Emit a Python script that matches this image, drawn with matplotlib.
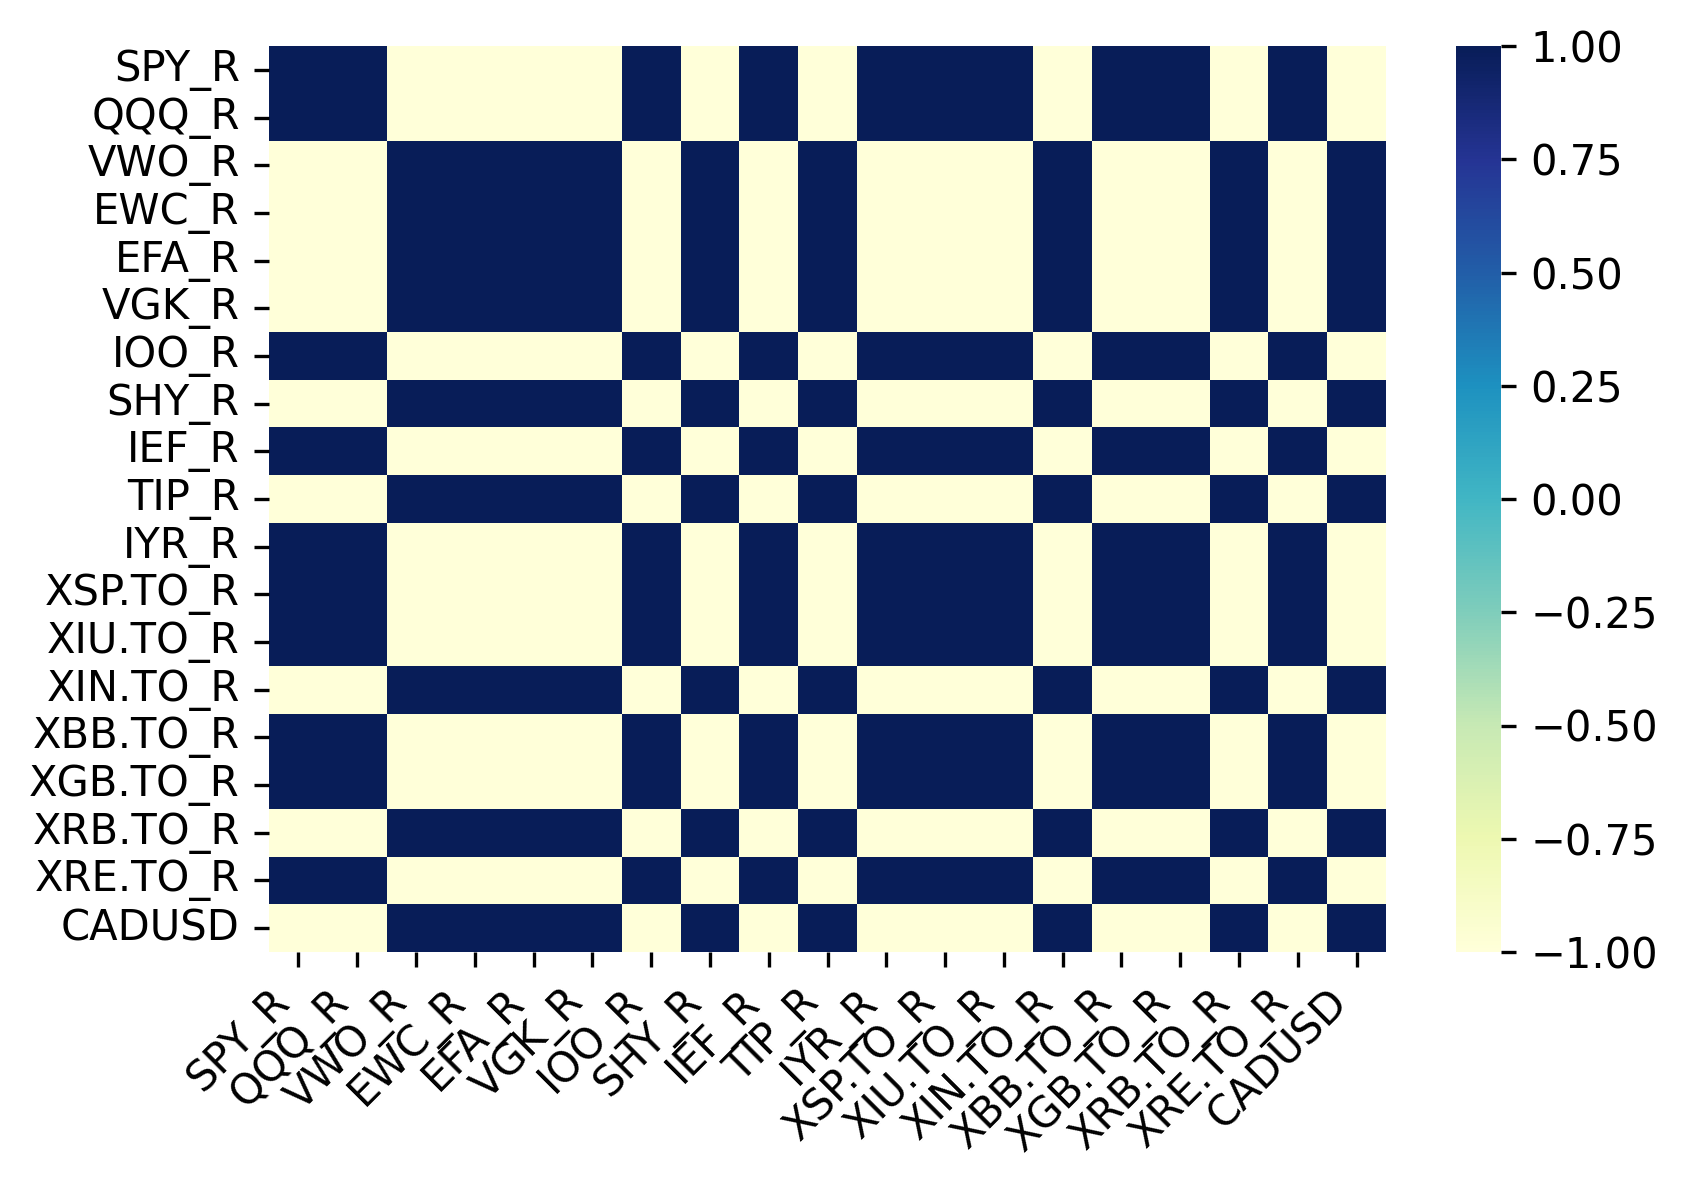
import matplotlib
matplotlib.use("Agg")
import matplotlib.pyplot as plt
import seaborn as sns
import pandas as pd
import numpy as np

labels = ["SPY_R", "QQQ_R", "VWO_R", "EWC_R", "EFA_R", "VGK_R", "IOO_R",
          "SHY_R", "IEF_R", "TIP_R", "IYR_R", "XSP.TO_R", "XIU.TO_R",
          "XIN.TO_R", "XBB.TO_R", "XGB.TO_R", "XRB.TO_R", "XRE.TO_R", "CADUSD"]

# correlation matrix rows (all cells are +1 or -1)
row_spy  = [ 1, 1,-1,-1,-1,-1, 1,-1, 1,-1, 1, 1, 1,-1, 1, 1,-1, 1,-1]
row_qqq  = [ 1, 1,-1,-1,-1,-1, 1,-1, 1,-1, 1, 1, 1,-1, 1, 1,-1, 1,-1]
row_vwo  = [-1,-1, 1, 1, 1, 1,-1, 1,-1, 1,-1,-1,-1, 1,-1,-1, 1,-1, 1]
row_ewc  = [-1,-1, 1, 1, 1, 1,-1, 1,-1, 1,-1,-1,-1, 1,-1,-1, 1,-1, 1]
row_efa  = [-1,-1, 1, 1, 1, 1,-1, 1,-1, 1,-1,-1,-1, 1,-1,-1, 1,-1, 1]
row_vgk  = [-1,-1, 1, 1, 1, 1,-1, 1,-1, 1,-1,-1,-1, 1,-1,-1, 1,-1, 1]
row_ioo  = [ 1, 1,-1,-1,-1,-1, 1,-1, 1,-1, 1, 1, 1,-1, 1, 1,-1, 1,-1]
row_shy  = [-1,-1, 1, 1, 1, 1,-1, 1,-1, 1,-1,-1,-1, 1,-1,-1, 1,-1, 1]
row_ief  = [ 1, 1,-1,-1,-1,-1, 1,-1, 1,-1, 1, 1, 1,-1, 1, 1,-1, 1,-1]
row_tip  = [-1,-1, 1, 1, 1, 1,-1, 1,-1, 1,-1,-1,-1, 1,-1,-1, 1,-1, 1]
row_iyr  = [ 1, 1,-1,-1,-1,-1, 1,-1, 1,-1, 1, 1, 1,-1, 1, 1,-1, 1,-1]
row_xsp  = [ 1, 1,-1,-1,-1,-1, 1,-1, 1,-1, 1, 1, 1,-1, 1, 1,-1, 1,-1]
row_xiu  = [ 1, 1,-1,-1,-1,-1, 1,-1, 1,-1, 1, 1, 1,-1, 1, 1,-1, 1,-1]
row_xin  = [-1,-1, 1, 1, 1, 1,-1, 1,-1, 1,-1,-1,-1, 1,-1,-1, 1,-1, 1]
row_xbb  = [ 1, 1,-1,-1,-1,-1, 1,-1, 1,-1, 1, 1, 1,-1, 1, 1,-1, 1,-1]
row_xgb  = [ 1, 1,-1,-1,-1,-1, 1,-1, 1,-1, 1, 1, 1,-1, 1, 1,-1, 1,-1]
row_xrb  = [-1,-1, 1, 1, 1, 1,-1, 1,-1, 1,-1,-1,-1, 1,-1,-1, 1,-1, 1]
row_xre  = [ 1, 1,-1,-1,-1,-1, 1,-1, 1,-1, 1, 1, 1,-1, 1, 1,-1, 1,-1]
row_cad  = [-1,-1, 1, 1, 1, 1,-1, 1,-1, 1,-1,-1,-1, 1,-1,-1, 1,-1, 1]

rows = [row_spy, row_qqq, row_vwo, row_ewc, row_efa, row_vgk, row_ioo,
        row_shy, row_ief, row_tip, row_iyr, row_xsp, row_xiu, row_xin,
        row_xbb, row_xgb, row_xrb, row_xre, row_cad]

corr = pd.DataFrame(rows, index=labels, columns=labels, dtype=float)

fig = plt.figure(figsize=(1687/300, 1190/300), dpi=300)
ax = fig.add_axes([269/1687, 1-952/1190, (1386-269)/1687, (952-46)/1190])
cax = fig.add_axes([1456/1687, 1-952/1190, 45/1687, (952-46)/1190])

sns.heatmap(corr, ax=ax, cbar_ax=cax, cmap="YlGnBu", vmin=-1, vmax=1)
ax.set_xticklabels(ax.get_xticklabels(), rotation=45, ha="right")
ax.set_yticklabels(ax.get_yticklabels(), rotation=0)

fig.savefig("out.png", dpi=300)
